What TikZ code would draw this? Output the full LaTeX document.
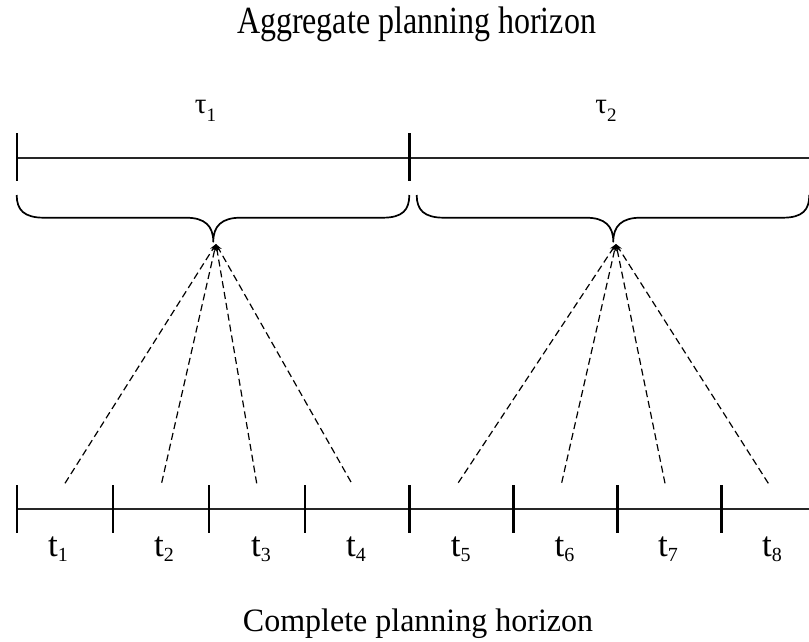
\documentclass[tikz,border=0pt]{standalone}
\usepackage{fontspec}
\setmainfont{Liberation Serif}
\usetikzlibrary{arrows.meta}
\newcommand{\vst}[2]{\scalebox{1}[#1]{#2}}
\newcommand{\tsub}[2]{#1\raisebox{-5pt}{\fontsize{20}{20}\selectfont #2}}
\newcommand{\tausub}[1]{τ\raisebox{-8pt}{\fontsize{19}{19}\selectfont #1}}
\begin{document}
\begin{tikzpicture}[x=1pt,y=-1pt,line join=round,
  axisline/.style={line width=1.7pt,draw=black!85},
  tickthin/.style={line width=1.7pt},
  tickthick/.style={line width=2.7pt},
  bracestyle/.style={line width=1.7pt},
  link/.style={line width=1.2pt,dash pattern=on 7pt off 4pt,-{Stealth[length=7pt,width=5pt]}},
  lbl/.style={inner sep=0pt,anchor=base,font=\fontsize{32}{36}\selectfont},
  per/.style={inner sep=0pt,anchor=base,font=\fontsize{35}{40}\selectfont},
  agg/.style={inner sep=0pt,anchor=base,font=\fontsize{29}{34}\selectfont}]
\useasboundingbox (0,0) rectangle (809,641);

% titles
\node[lbl] (title) at (416.5,33.3) {\vst{1.2}{Aggregate planning horizon}};
\node[lbl] (foot) at (418,631.7) {\vst{1.02}{Complete planning horizon}};

% top axis
\draw[axisline] (16.7,157.7) -- (812,157.7);
\draw[tickthin] (16.7,133) -- (16.7,181);
\draw[tickthick] (409.3,133) -- (409.3,181);
\node[agg] (tau1) at (205.5,113.3) {\tausub{1}};
\node[agg] (tau2) at (606,113.3) {\tausub{2}};

% braces
\foreach \s in {0,400}{
  \draw[bracestyle,xshift=\s pt] (16.7,195) .. controls (16.7,210) and (24,217.7) .. (44,217.7)
    -- (186,217.7) .. controls (205,217.7) and (213.3,226) .. (213.3,241.7)
    .. controls (213.3,226) and (221.6,217.7) .. (240.6,217.7)
    -- (382.6,217.7) .. controls (402.6,217.7) and (409.3,210) .. (409.3,195);
}

% bottom axis
\draw[axisline] (16.7,509.3) -- (812,509.3);
\foreach \x in {16.7,113.3,209,305}{\draw[tickthin] (\x,485) -- (\x,533.3);}
\foreach \x in {409.3,513.3,617.3,721.7}{\draw[tickthick] (\x,485) -- (\x,533.3);}

% period labels
\foreach \i/\x in {1/58,2/164,3/261,4/356,5/460.8,6/564.5,7/668,8/772}{
  \node[per] (t\i) at (\x,556.7) {\tsub{t}{\i}};
}

% converging points
\coordinate (tip1) at (216,244);
\coordinate (tip2) at (616,244);
\coordinate (b1) at (65,483.3);
\coordinate (b2) at (161.7,482.7);
\coordinate (b3) at (256.7,483.3);
\coordinate (b4) at (351,482);
\coordinate (b5) at (458.3,482.7);
\coordinate (b6) at (561.7,482.7);
\coordinate (b7) at (665,483.3);
\coordinate (b8) at (768.3,483.3);

\foreach \i in {1,2,3,4}{\draw[link] (b\i) -- (tip1);}
\foreach \i in {5,6,7,8}{\draw[link] (b\i) -- (tip2);}
\end{tikzpicture}
\end{document}
